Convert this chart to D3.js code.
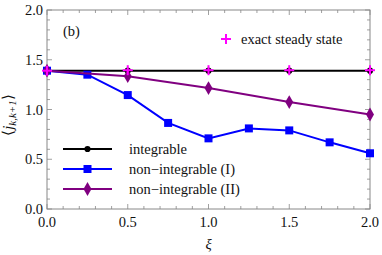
<!DOCTYPE html>
<html><head><meta charset="utf-8">
<script src="https://cdn.jsdelivr.net/npm/d3@7"></script>
<style>body{margin:0;background:#fff}svg{display:block}</style>
</head><body><svg id="c" width="382" height="255" font-family="'Liberation Serif','Times New Roman',Times,serif"></svg>
<script>
const xiInt = [0, 0.5, 1.0, 1.5, 2.0];
const valInt = [1.39, 1.39, 1.39, 1.39, 1.39];
const xiExact = [0, 0.5, 1.0, 1.5, 2.0];
const valExact = [1.39, 1.395, 1.395, 1.395, 1.395];
const xiI = [0, 0.25, 0.5, 0.75, 1.0, 1.25, 1.5, 1.75, 2.0];
const valI = [1.39, 1.35, 1.145, 0.865, 0.71, 0.81, 0.79, 0.67, 0.56];
const xiII = [0, 0.5, 1.0, 1.5, 2.0];
const valII = [1.39, 1.335, 1.215, 1.075, 0.95];
const xTicks = [0, 0.5, 1.0, 1.5, 2.0];
const yTicks = [0, 0.5, 1.0, 1.5, 2.0];
const legendLabels = ["integrable", "non\u2212integrable (I)", "non\u2212integrable (II)"];
const exactLabel = "exact steady state";

const svg = d3.select("#c");
const L = 47, R = 370, T = 10, B = 209;
const x = d3.scaleLinear().domain([0, 2]).range([L, R]);
const y = d3.scaleLinear().domain([0, 2]).range([B, T]);
const frameCol = "#888";
const txtCol = "#111";
const fs = 14.5;

svg.append("rect").attr("x", L).attr("y", T).attr("width", R - L).attr("height", B - T)
  .attr("fill", "none").attr("stroke", frameCol).attr("stroke-width", 1);

const minor = d3.range(0, 2.0001, 0.1).map(v => +v.toFixed(2));
const isMajor = v => Math.abs(v * 2 - Math.round(v * 2)) < 1e-6;
const tk = svg.append("g").attr("stroke", frameCol).attr("stroke-width", 0.8);
minor.forEach(v => {
  const len = isMajor(v) ? 5 : 3;
  tk.append("line").attr("x1", x(v)).attr("x2", x(v)).attr("y1", B).attr("y2", B - len);
  tk.append("line").attr("x1", x(v)).attr("x2", x(v)).attr("y1", T).attr("y2", T + len);
  tk.append("line").attr("y1", y(v)).attr("y2", y(v)).attr("x1", L).attr("x2", L + len);
  tk.append("line").attr("y1", y(v)).attr("y2", y(v)).attr("x1", R).attr("x2", R - len);
});
xTicks.forEach(v => svg.append("text").attr("x", x(v)).attr("y", 227).attr("text-anchor", "middle")
  .attr("font-size", fs).attr("fill", txtCol).text(d3.format(".1f")(v)));
yTicks.forEach(v => svg.append("text").attr("x", 43).attr("y", y(v) + 5).attr("text-anchor", "end")
  .attr("font-size", fs).attr("fill", txtCol).text(d3.format(".1f")(v)));

svg.append("text").attr("x", x(1)).attr("y", 249).attr("text-anchor", "middle")
  .attr("font-size", fs).attr("font-style", "italic").attr("fill", txtCol).text("\u03BE");
const yl = svg.append("text").attr("transform", "translate(13,115) rotate(-90)")
  .attr("text-anchor", "middle").attr("font-size", fs).attr("fill", txtCol);
yl.append("tspan").text("\u27E8");
yl.append("tspan").attr("font-style", "italic").text("j");
yl.append("tspan").attr("font-style", "italic").attr("font-size", 11).attr("dy", 3).text("k,k+1");
yl.append("tspan").attr("dy", -3).text("\u27E9");

svg.append("text").attr("x", 63).attr("y", 36).attr("font-size", fs).attr("fill", txtCol).text("(b)");

const line = d3.line().x(d => x(d[0])).y(d => y(d[1]));
function series(xs, vs, col, shape, size) {
  const pts = xs.map((v, i) => [v, vs[i]]);
  svg.append("path").datum(pts).attr("d", line).attr("fill", "none").attr("stroke", col).attr("stroke-width", 2);
  svg.selectAll(null).data(pts).enter().append("path")
    .attr("transform", d => `translate(${x(d[0])},${y(d[1])})`)
    .attr("d", d3.symbol().type(shape).size(size)).attr("fill", col);
}
series(xiInt, valInt, "#000", d3.symbolCircle, 30);
series(xiI, valI, "#0000ff", d3.symbolSquare, 64);
series(xiII, valII, "#800080", d3.symbolDiamond, 55);

const plus = (g, cx, cy) => {
  g.append("line").attr("x1", cx - 5).attr("x2", cx + 5).attr("y1", cy).attr("y2", cy);
  g.append("line").attr("x1", cx).attr("x2", cx).attr("y1", cy - 5).attr("y2", cy + 5);
};
const pg = svg.append("g").attr("stroke", "#ff00ff").attr("stroke-width", 2);
xiExact.forEach((v, i) => plus(pg, x(v), y(valExact[i])));

plus(pg, 226, 39);
svg.append("text").attr("x", 241).attr("y", 44).attr("font-size", fs).attr("fill", txtCol).text(exactLabel);

const legCols = ["#000", "#0000ff", "#800080"];
const legShapes = [[d3.symbolCircle, 30], [d3.symbolSquare, 64], [d3.symbolDiamond, 55]];
legendLabels.forEach((lab, i) => {
  const ly = 149 + i * 20;
  svg.append("line").attr("x1", 63).attr("x2", 112).attr("y1", ly).attr("y2", ly)
    .attr("stroke", legCols[i]).attr("stroke-width", 2);
  svg.append("path").attr("transform", `translate(87.5,${ly})`)
    .attr("d", d3.symbol().type(legShapes[i][0]).size(legShapes[i][1])).attr("fill", legCols[i]);
  svg.append("text").attr("x", 129).attr("y", ly + 4.5).attr("font-size", fs).attr("fill", txtCol).text(lab);
});
</script></body></html>
